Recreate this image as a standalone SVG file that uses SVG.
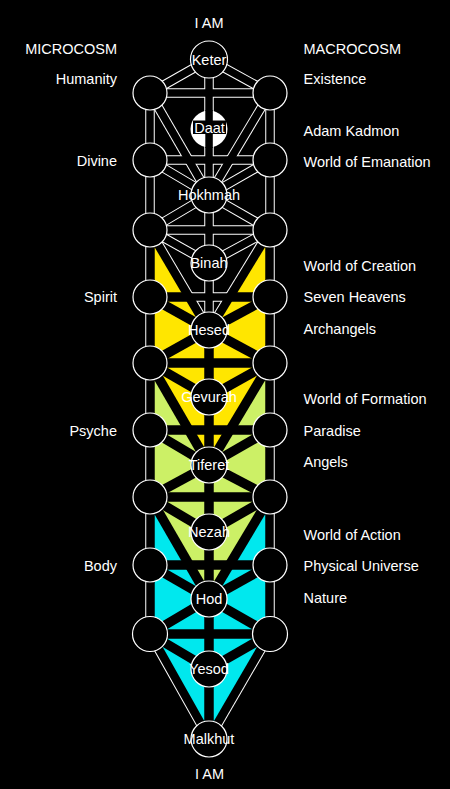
<svg xmlns="http://www.w3.org/2000/svg" xmlns:xlink="http://www.w3.org/1999/xlink" width="450" height="789" viewBox="0 0 450 789">
<style>
text{font-family:"Liberation Sans",Arial,sans-serif;font-size:14.5px;fill:#fff}
.l{text-anchor:end}
.m{text-anchor:middle}
.n{fill:#000;stroke:#fff;stroke-width:1.2}
.edge-o{stroke:#fff;stroke-width:9.5;fill:none}
.edge-w{stroke:#000;stroke-width:9.5;fill:none}
.edge-i{stroke:#000;stroke-width:7.5;fill:none}
</style>
<defs>
<g id="paths">
<line x1="209" y1="59.5" x2="209" y2="739"/>
<line x1="150" y1="93" x2="150" y2="634"/>
<line x1="270" y1="93" x2="270" y2="634"/>
<line x1="150" y1="93" x2="270" y2="93"/>
<line x1="150" y1="160" x2="270" y2="160"/>
<line x1="150" y1="230" x2="270" y2="230"/>
<line x1="150" y1="297" x2="270" y2="297"/>
<line x1="150" y1="363" x2="270" y2="363"/>
<line x1="150" y1="430" x2="270" y2="430"/>
<line x1="150" y1="497" x2="270" y2="497"/>
<line x1="150" y1="565" x2="270" y2="565"/>
<line x1="150" y1="634" x2="270" y2="634"/>
<line x1="209" y1="59.5" x2="150" y2="93"/><line x1="209" y1="59.5" x2="270" y2="93"/>
<line x1="209" y1="195" x2="150" y2="230"/><line x1="209" y1="195" x2="270" y2="230"/>
<line x1="209" y1="330" x2="150" y2="363"/><line x1="209" y1="330" x2="270" y2="363"/>
<line x1="209" y1="465" x2="150" y2="497"/><line x1="209" y1="465" x2="270" y2="497"/>
<line x1="209" y1="599" x2="150" y2="634"/><line x1="209" y1="599" x2="270" y2="634"/>
<line x1="150" y1="93" x2="209" y2="195"/><line x1="270" y1="93" x2="209" y2="195"/>
<line x1="150" y1="230" x2="209" y2="330"/><line x1="270" y1="230" x2="209" y2="330"/>
<line x1="150" y1="363" x2="209" y2="465"/><line x1="270" y1="363" x2="209" y2="465"/>
<line x1="150" y1="497" x2="209" y2="599"/><line x1="270" y1="497" x2="209" y2="599"/>
<line x1="150" y1="634" x2="209" y2="739"/><line x1="270" y1="634" x2="209" y2="739"/>
<line x1="150" y1="160" x2="209" y2="195"/><line x1="270" y1="160" x2="209" y2="195"/>
<line x1="150" y1="297" x2="209" y2="330"/><line x1="270" y1="297" x2="209" y2="330"/>
<line x1="150" y1="430" x2="209" y2="465"/><line x1="270" y1="430" x2="209" y2="465"/>
<line x1="150" y1="565" x2="209" y2="599"/><line x1="270" y1="565" x2="209" y2="599"/>
<line x1="150" y1="230" x2="209" y2="263"/><line x1="270" y1="230" x2="209" y2="263"/>
<line x1="150" y1="363" x2="209" y2="397"/><line x1="270" y1="363" x2="209" y2="397"/>
<line x1="150" y1="497" x2="209" y2="532"/><line x1="270" y1="497" x2="209" y2="532"/>
<line x1="150" y1="634" x2="209" y2="669"/><line x1="270" y1="634" x2="209" y2="669"/>
</g>
<g id="worldShapes">
<polygon points="150,230 150,363 209,465 270,363 270,230 209,330"/>
<polygon points="150,363 150,497 209,599 270,497 270,363 209,465"/>
<polygon points="150,497 150,634 209,739 270,634 270,497 209,599"/>
</g>
<mask id="outsideWorlds" maskUnits="userSpaceOnUse" x="0" y="0" width="450" height="789">
<rect width="450" height="789" fill="#fff"/>
<use xlink:href="#worldShapes" fill="#000"/>
</mask>
<mask id="insideWorlds" maskUnits="userSpaceOnUse" x="0" y="0" width="450" height="789">
<use xlink:href="#worldShapes" fill="#fff"/>
</mask>
</defs>
<rect width="450" height="789" fill="#000"/>
<g id="worlds">
<polygon id="creation" fill="#ffe600" points="150,230 150,363 209,465 270,363 270,230 209,330"/>
<polygon id="formation" fill="#ccf066" points="150,363 150,497 209,599 270,497 270,363 209,465"/>
<polygon id="action" fill="#00e8ee" points="150,497 150,634 209,739 270,634 270,497 209,599"/>
</g>
<g id="connectors">
<use xlink:href="#paths" class="edge-o" mask="url(#outsideWorlds)"/>
<use xlink:href="#paths" class="edge-w" mask="url(#insideWorlds)"/>
<use xlink:href="#paths" class="edge-i"/>
</g>
<g id="side-nodes">
<circle class="n" cx="150" cy="93" r="17"/><circle class="n" cx="270" cy="93" r="17"/>
<circle class="n" cx="150" cy="160" r="17"/><circle class="n" cx="270" cy="160" r="17"/>
<circle class="n" cx="150" cy="230" r="17"/><circle class="n" cx="270" cy="230" r="17"/>
<circle class="n" cx="150" cy="297" r="17"/><circle class="n" cx="270" cy="297" r="17"/>
<circle class="n" cx="150" cy="363" r="17"/><circle class="n" cx="270" cy="363" r="17"/>
<circle class="n" cx="150" cy="430" r="17"/><circle class="n" cx="270" cy="430" r="17"/>
<circle class="n" cx="150" cy="497" r="17"/><circle class="n" cx="270" cy="497" r="17"/>
<circle class="n" cx="150" cy="565" r="17"/><circle class="n" cx="270" cy="565" r="17"/>
<circle class="n" cx="150" cy="634" r="17.5"/><circle class="n" cx="270" cy="634" r="17.5"/>
</g>
<g id="keter"><circle class="n" cx="209" cy="59.5" r="18.5"/><text class="m" x="209" y="65">Keter</text></g>
<g id="daat"><circle cx="209" cy="129" r="18.5" fill="#fff"/><rect x="205.3" y="110" width="7.5" height="38" fill="#000"/><rect x="193" y="120.5" width="33" height="13.5" fill="#000"/><text class="m" x="209.5" y="132.5">Daat</text></g>
<g id="hokhmah"><circle class="n" cx="209" cy="195" r="18"/><text class="m" x="209" y="200">Hokhmah</text></g>
<g id="binah"><circle class="n" cx="209" cy="263" r="18"/><text class="m" x="209" y="268">Binah</text></g>
<g id="hesed"><circle class="n" cx="209" cy="330" r="18"/><text class="m" x="209" y="335">Hesed</text></g>
<g id="gevurah"><circle class="n" cx="209" cy="397" r="18"/><text class="m" x="209" y="402">Gevurah</text></g>
<g id="tiferet"><circle class="n" cx="209" cy="465" r="18"/><text class="m" x="209" y="470">Tiferet</text></g>
<g id="nezah"><circle class="n" cx="209" cy="532" r="18"/><text class="m" x="209" y="537">Nezah</text></g>
<g id="hod"><circle class="n" cx="209" cy="599" r="18"/><text class="m" x="209" y="604">Hod</text></g>
<g id="yesod"><circle class="n" cx="209" cy="669" r="18"/><text class="m" x="209" y="674">Yesod</text></g>
<g id="malkhut"><circle class="n" cx="209" cy="739" r="18"/><text class="m" x="209" y="744">Malkhut</text></g>
<g id="labels">
<text class="m" x="209" y="28">I AM</text>
<text class="m" x="209.5" y="779">I AM</text>
<text class="l" x="117" y="54">MICROCOSM</text>
<text class="l" x="117" y="84">Humanity</text>
<text class="l" x="117" y="166">Divine</text>
<text class="l" x="117" y="302">Spirit</text>
<text class="l" x="117" y="436">Psyche</text>
<text class="l" x="117" y="571">Body</text>
<text x="303.5" y="54">MACROCOSM</text>
<text x="303.5" y="84">Existence</text>
<text x="303.5" y="136">Adam Kadmon</text>
<text x="303.5" y="166.5">World of Emanation</text>
<text x="303.5" y="271">World of Creation</text>
<text x="303.5" y="302">Seven Heavens</text>
<text x="303.5" y="334">Archangels</text>
<text x="303.5" y="404">World of Formation</text>
<text x="303.5" y="435.5">Paradise</text>
<text x="303.5" y="467">Angels</text>
<text x="303.5" y="540">World of Action</text>
<text x="303.5" y="571">Physical Universe</text>
<text x="303.5" y="603">Nature</text>
</g>
</svg>
